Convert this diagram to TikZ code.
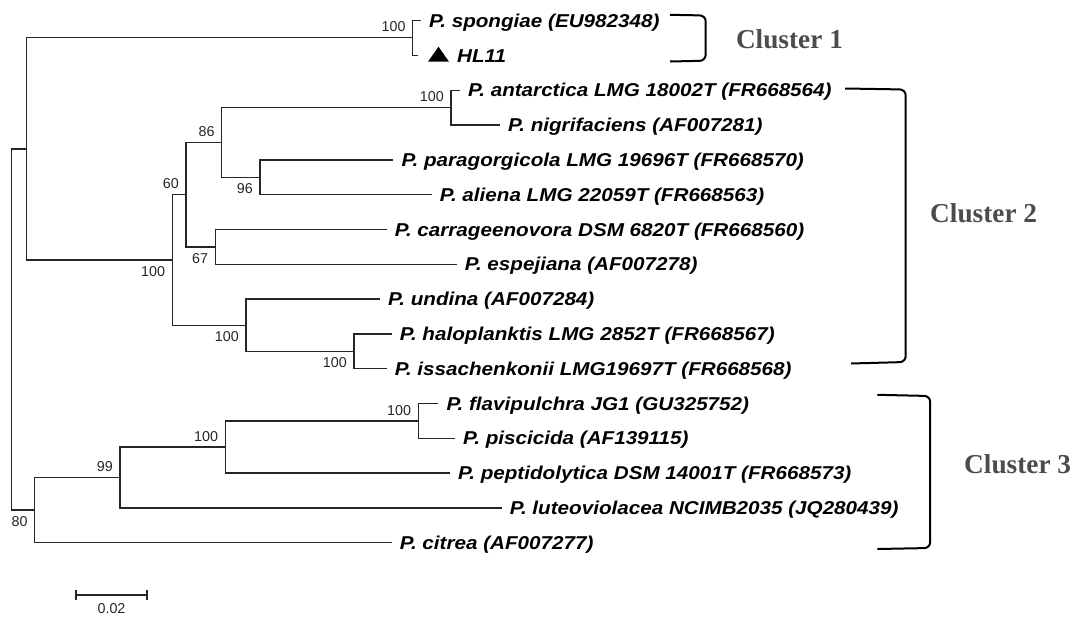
\documentclass[tikz,border=0pt]{standalone}
\usepackage{fontspec}
\setmainfont{Liberation Sans}
\newfontfamily\leaffont[FakeStretch=1.11]{Liberation Sans}
\newfontfamily\clusterfont{Liberation Serif}
\begin{document}
\begin{tikzpicture}[x=1pt,y=-1pt,
  tree/.style={line width=1.3pt, draw=black!85},
  leaf/.style={anchor=west, inner xsep=8pt, inner ysep=0pt, text height=17.3pt, text depth=4pt,
    font=\leaffont\bfseries\itshape\fontsize{18.6}{20}\selectfont},
  boot/.style={inner sep=0pt, font=\fontsize{14.3}{15}\selectfont, text=black!85},
  bup/.style={boot, anchor=south east, xshift=-7pt, yshift=5.4pt},
  bdn/.style={boot, anchor=north east, xshift=-7pt, yshift=-6pt},
  brk/.style={line width=2pt, rounded corners=6pt},
  clu/.style={font=\clusterfont\bfseries\fontsize{27.3}{30}\selectfont, text=black!70, anchor=west, inner sep=0pt}]
\useasboundingbox (0,0) rectangle (1091,619);

% internal nodes
\coordinate (root) at (11.7,329.5);
\coordinate (nA) at (26.7,148.9);
\coordinate (nS) at (412.7,37.7);
\coordinate (nC2) at (172.3,260);
\coordinate (n60) at (186,194.7);
\coordinate (n86) at (221.7,142.5);
\coordinate (nAnt) at (451,107.7);
\coordinate (nPara) at (260,177.3);
\coordinate (n67) at (215.3,246.9);
\coordinate (nUnd) at (246,325.2);
\coordinate (nHalo) at (354,351.3);
\coordinate (n80) at (34.7,510.1);
\coordinate (n99) at (120,477.5);
\coordinate (nPep) at (225.3,447);
\coordinate (nFlav) at (418.3,420.9);

% leaves
\node[leaf] (l0) at (421,20.7) {P. spongiae (EU982348)};
\coordinate (l1e) at (418,55.5);
\coordinate (tri) at (428,61.7);
\fill (tri) -- ++(21,0) -- ++(-10.5,-15) -- cycle;
\node[leaf] (l1) at (449,55.5) {HL11};
\node[leaf] (l2) at (460,90.3) {P. antarctica LMG 18002T (FR668564)};
\node[leaf] (l3) at (500,125.1) {P. nigrifaciens (AF007281)};
\node[leaf] (l4) at (393.3,159.9) {P. paragorgicola LMG 19696T (FR668570)};
\node[leaf] (l5) at (431.7,194.7) {P. aliena LMG 22059T (FR668563)};
\node[leaf] (l6) at (386.7,229.5) {P. carrageenovora DSM 6820T (FR668560)};
\node[leaf] (l7) at (456.7,264.3) {P. espejiana (AF007278)};
\node[leaf] (l8) at (380,299.1) {P. undina (AF007284)};
\node[leaf] (l9) at (391.7,333.9) {P. haloplanktis LMG 2852T (FR668567)};
\node[leaf] (l10) at (386.7,368.7) {P. issachenkonii LMG19697T (FR668568)};
\node[leaf] (l11) at (438.3,403.5) {P. flavipulchra JG1 (GU325752)};
\node[leaf] (l12) at (455,438.3) {P. piscicida (AF139115)};
\node[leaf] (l13) at (450,473.1) {P. peptidolytica DSM 14001T (FR668573)};
\node[leaf] (l14) at (501.7,507.9) {P. luteoviolacea NCIMB2035 (JQ280439)};
\node[leaf] (l15) at (391.7,542.7) {P. citrea (AF007277)};

% branches
\draw[tree] (root) |- (nA);  \draw[tree] (root) |- (n80);
\draw[tree] (nA) |- (nS);    \draw[tree] (nA) |- (nC2);
\draw[tree] (nS) |- (l0.west); \draw[tree] (nS) |- (l1e);
\draw[tree] (nC2) |- (n60);  \draw[tree] (nC2) |- (nUnd);
\draw[tree] (n60) |- (n86);  \draw[tree] (n60) |- (n67);
\draw[tree] (n86) |- (nAnt); \draw[tree] (n86) |- (nPara);
\draw[tree] (nAnt) |- (l2.west); \draw[tree] (nAnt) |- (l3.west);
\draw[tree] (nPara) |- (l4.west); \draw[tree] (nPara) |- (l5.west);
\draw[tree] (n67) |- (l6.west); \draw[tree] (n67) |- (l7.west);
\draw[tree] (nUnd) |- (l8.west); \draw[tree] (nUnd) |- (nHalo);
\draw[tree] (nHalo) |- (l9.west); \draw[tree] (nHalo) |- (l10.west);
\draw[tree] (n80) |- (n99);  \draw[tree] (n80) |- (l15.west);
\draw[tree] (n99) |- (nPep); \draw[tree] (n99) |- (l14.west);
\draw[tree] (nPep) |- (nFlav); \draw[tree] (nPep) |- (l13.west);
\draw[tree] (nFlav) |- (l11.west); \draw[tree] (nFlav) |- (l12.west);

% bootstrap values
\node[bup] (bS) at (nS) {100};
\node[bup] (bAnt) at (nAnt) {100};
\node[bup] (b86) at (n86) {86};
\node[bdn] (b96) at (nPara) {96};
\node[bup] (b60) at (n60) {60};
\node[bdn] (b67) at (n67) {67};
\node[bdn] (bC2) at (nC2) {100};
\node[bdn] (bUnd) at (nUnd) {100};
\node[bdn] (bHalo) at (nHalo) {100};
\node[bup] (bFlav) at (nFlav) {100};
\node[bup] (bPep) at (nPep) {100};
\node[bup] (b99) at (n99) {99};
\node[bdn] (b80) at (n80) {80};

% scale bar
\coordinate (sb1) at (76,595);
\coordinate (sb2) at (147,595);
\draw[tree] (sb1) -- (sb2);
\draw[tree] ([yshift=5pt]sb1) -- ([yshift=-5pt]sb1);
\draw[tree] ([yshift=5pt]sb2) -- ([yshift=-5pt]sb2);
\node[boot] (sbl) at (111.5,609) {0.02};

% cluster brackets
\coordinate (c1a) at (670,14.8); \coordinate (c1b) at (705.7,15.5);
\coordinate (c1c) at (705.7,60.7); \coordinate (c1d) at (670,61.5);
\draw[brk] (c1a) -- (c1b) -- (c1c) -- (c1d);
\node[clu] (cl1) at (735.8,39.3) {Cluster 1};

\coordinate (c2a) at (845,88.5); \coordinate (c2b) at (905.7,89.5);
\coordinate (c2c) at (905.7,362); \coordinate (c2d) at (851,363.5);
\draw[brk] (c2a) -- (c2b) -- (c2c) -- (c2d);
\node[clu] (cl2) at (930,213) {Cluster 2};

\coordinate (c3a) at (877.4,394.8); \coordinate (c3b) at (930.2,396);
\coordinate (c3c) at (930.2,548); \coordinate (c3d) at (877.4,549);
\draw[brk] (c3a) -- (c3b) -- (c3c) -- (c3d);
\node[clu] (cl3) at (964,464) {Cluster 3};
\end{tikzpicture}
\end{document}
